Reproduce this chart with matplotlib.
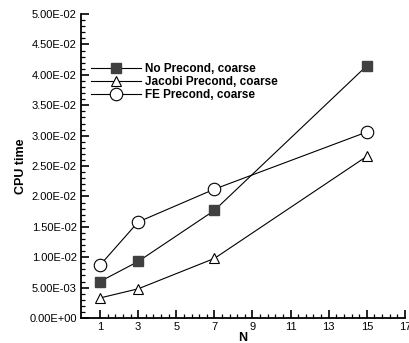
import matplotlib.pyplot as plt
from matplotlib.ticker import MultipleLocator, FormatStrFormatter

plt.rcParams['font.family'] = ['Liberation Sans', 'DejaVu Sans']

n = [1, 3, 7, 15]
no_precond = [0.0060, 0.0093, 0.0177, 0.0415]
jacobi = [0.0033, 0.0048, 0.0098, 0.0266]
fe_precond = [0.0087, 0.0158, 0.0212, 0.0306]

fig = plt.figure(figsize=(4.10, 3.43), dpi=100)
ax = fig.add_axes([0.1976, 0.0729, 0.790, 0.886])

ax.plot(n, no_precond, c="k", lw=0.8, marker="s", ms=6.5, mfc="#404040", mec="#404040",
        label="No Precond, coarse")
ax.plot(n, jacobi, c="k", lw=0.8, marker="^", ms=7.5, mfc="white", mec="k", mew=0.8,
        label="Jacobi Precond, coarse")
ax.plot(n, fe_precond, c="k", lw=0.8, marker="o", ms=9, mfc="white", mec="k", mew=0.8,
        label="FE Precond, coarse")

ax.set_xlim(0, 17)
ax.set_ylim(0, 0.05)
ax.yaxis.set_major_locator(MultipleLocator(0.005))
ax.yaxis.set_minor_locator(MultipleLocator(0.001))
ax.yaxis.set_major_formatter(FormatStrFormatter("%.2E"))
ax.set_xticks([1, 3, 5, 7, 9, 11, 13, 15, 17])
ax.set_xticks([1 + 0.4 * i for i in range(41)], minor=True)

for s in ["top", "right"]:
    ax.spines[s].set_visible(False)
for s in ["left", "bottom"]:
    ax.spines[s].set_linewidth(1.3)
ax.tick_params(which="major", direction="in", length=6, width=1.2, labelsize=8, pad=3)
ax.tick_params(which="minor", direction="in", length=3, width=0.9)

ax.set_xlabel("N", fontsize=9, fontweight="bold", labelpad=0)
ax.set_ylabel("CPU time", fontsize=9, fontweight="bold", labelpad=2)

leg = ax.legend(loc="upper left", bbox_to_anchor=(0.03, 0.84), frameon=False,
                prop={"size": 8.5, "weight": "bold"}, handlelength=4.3, handletextpad=0.3,
                labelspacing=0.1, borderpad=0, borderaxespad=0)

fig.savefig("out.png", dpi=100)
